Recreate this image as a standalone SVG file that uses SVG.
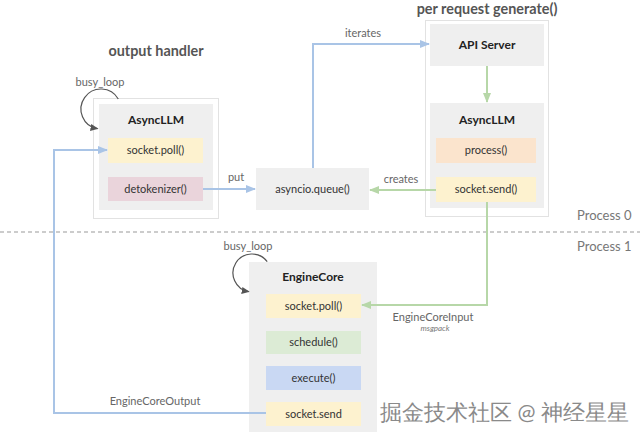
<svg xmlns="http://www.w3.org/2000/svg" width="640" height="440" viewBox="0 0 640 440">
<style>
text{font-family:Lato,"Noto Sans",sans-serif;}
.h{font-size:14.4px;font-weight:bold;fill:#555;text-anchor:middle;}
.t{font-size:12px;font-weight:bold;fill:#222;text-anchor:middle;}
.l{font-size:11px;fill:#333;text-anchor:middle;}
.c{font-size:11px;fill:#666;text-anchor:middle;}
.p{font-size:13px;fill:#777;}
.outer{fill:#fff;stroke:#e2e2e2;stroke-width:1;}
.gray{fill:#efefef;}
.yel{fill:#fdf2cf;}
.pink{fill:#ead4db;}
.org{fill:#fbe4cd;}
.grn{fill:#dcebd5;}
.blu{fill:#c9d8f3;}
.bl{fill:none;stroke:#a9c4e6;stroke-width:2;}
.gl{fill:none;stroke:#b7d7a8;stroke-width:2;}
.loop{fill:none;stroke:#555;stroke-width:1.2;}
</style>
<defs>
<marker id="ab" markerWidth="10" markerHeight="10" refX="9" refY="5" orient="auto" markerUnits="userSpaceOnUse"><path d="M0,1 L10,5 L0,9 Z" fill="#a9c4e6"/></marker>
<marker id="ag" markerWidth="10" markerHeight="10" refX="9" refY="5" orient="auto" markerUnits="userSpaceOnUse"><path d="M0,1 L10,5 L0,9 Z" fill="#b7d7a8"/></marker>
<marker id="ak" markerWidth="8" markerHeight="8" refX="7" refY="4" orient="auto" markerUnits="userSpaceOnUse"><path d="M0,0.5 L8,4 L0,7.5 Z" fill="#555"/></marker>
</defs>
<rect width="640" height="440" fill="#fff"/>

<g id="output-handler">
<text class="h" x="156" y="56">output handler</text>
<rect class="outer" x="93.5" y="98.5" width="125" height="120"/>
<rect class="gray" x="99" y="104" width="114" height="106"/>
<text class="t" x="156" y="124">AsyncLLM</text>
<g id="oh-poll"><rect class="yel" x="108" y="138" width="95" height="25"/><text class="l" x="155.5" y="154">socket.poll()</text></g>
<g id="oh-detok"><rect class="pink" x="108" y="177" width="95" height="24"/><text class="l" x="155.5" y="193">detokenizer()</text></g>
<text class="c" x="100" y="86">busy_loop</text>
<path class="loop" d="M118.3,99 A20,20 0 1 0 97.5,128.7" marker-end="url(#ak)"/>
</g>

<g id="asyncio-queue">
<rect class="gray" x="256" y="168" width="113" height="42"/>
<text class="l" x="312.5" y="193">asyncio.queue()</text>
</g>

<g id="per-request">
<text class="h" x="487" y="14">per request generate()</text>
<rect class="outer" x="425.5" y="20.5" width="123" height="196"/>
<g id="api-server"><rect class="gray" x="430" y="24" width="114" height="42"/><text class="t" x="487" y="49">API Server</text></g>
<g id="pr-asyncllm">
<rect class="gray" x="430" y="103" width="114" height="105"/>
<text class="t" x="487" y="124">AsyncLLM</text>
<g id="pr-process"><rect class="org" x="436" y="138" width="100" height="25"/><text class="l" x="486" y="154">process()</text></g>
<g id="pr-send"><rect class="yel" x="436" y="177" width="100" height="25"/><text class="l" x="486" y="193">socket.send()</text></g>
</g>
</g>

<g id="process-divider">
<line x1="0" y1="232" x2="640" y2="232" stroke="#999" stroke-width="1" stroke-dasharray="4,3"/>
<text class="p" x="577" y="220">Process 0</text>
<text class="p" x="577" y="251">Process 1</text>
</g>

<g id="engine-core">
<rect class="gray" x="249" y="262" width="128" height="170"/>
<text class="t" x="313" y="281">EngineCore</text>
<g id="ec-poll"><rect class="yel" x="266" y="294" width="95" height="24"/><text class="l" x="313.5" y="310">socket.poll()</text></g>
<g id="ec-schedule"><rect class="grn" x="266" y="331" width="95" height="23"/><text class="l" x="313.5" y="346">schedule()</text></g>
<g id="ec-execute"><rect class="blu" x="266" y="366" width="95" height="24"/><text class="l" x="313.5" y="382">execute()</text></g>
<g id="ec-send"><rect class="yel" x="266" y="402" width="95" height="24"/><text class="l" x="313.5" y="418">socket.send</text></g>
<text class="c" x="248" y="250">busy_loop</text>
<path class="loop" d="M267.2,261.6 A19,19 0 1 0 248.7,291.7" marker-end="url(#ak)"/>
</g>

<g id="connectors">
<path class="bl" d="M203,189 H255" marker-end="url(#ab)"/>
<text class="c" x="236" y="181">put</text>
<path class="bl" d="M313,168 V44 H429" marker-end="url(#ab)"/>
<text class="c" x="363" y="37">iterates</text>
<path class="gl" d="M487,66 V102" marker-end="url(#ag)"/>
<path class="gl" d="M436,190 H370" marker-end="url(#ag)"/>
<text class="c" x="401" y="183">creates</text>
<path class="gl" d="M487,202 V305 H362" marker-end="url(#ag)"/>
<text class="c" x="433" y="321">EngineCoreInput</text>
<text x="435" y="331" font-size="8" font-style="italic" fill="#777" text-anchor="middle">msgpack</text>
<path class="bl" d="M266,413 H54 V150 H107" marker-end="url(#ab)"/>
<text class="c" x="155" y="405">EngineCoreOutput</text>
</g>

<text x="380" y="420" font-family="'Noto Sans CJK SC',sans-serif" font-size="21.5" fill="#8a8a8a">掘金技术社区 @ 神经星星</text>
</svg>
